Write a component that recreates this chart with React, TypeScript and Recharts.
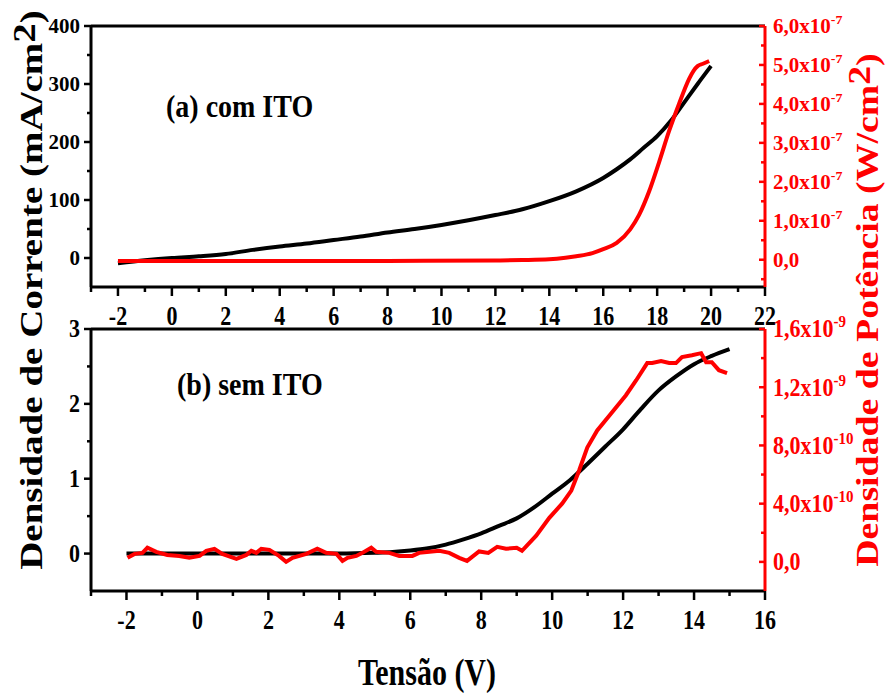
import React from "react";
import { ComposedChart, Line, XAxis, YAxis, ReferenceLine } from "recharts";

const FONT = '"Liberation Serif", "Times New Roman", Times, serif';

// ---------- Panel (a) com ITO ----------
const voltageA_J = [-2, -1, 0, 1, 2, 3, 4, 5, 6, 7, 8, 9, 10, 11, 12, 13, 14, 15, 16, 16.5, 17, 17.5, 18, 18.5, 19, 19.5, 20];
const currentA = [-9, -4, 0, 3, 7, 14, 20, 25, 31, 37, 44, 50, 57, 65, 74, 84, 98, 115, 138, 153, 170, 190, 210, 236, 268, 300, 331];
// power density in units of 1e-7 W/cm2
const voltageA_P = [-2, 0, 4, 8, 12, 13, 14, 14.6, 15, 15.6, 16, 16.5, 17, 17.33, 17.7, 18.07, 18.44, 18.81, 19.19, 19.35, 19.5, 19.7, 19.93];
const powerA = [-0.03, -0.03, -0.03, -0.03, -0.02, -0.01, 0.01, 0.05, 0.09, 0.17, 0.27, 0.43, 0.78, 1.15, 1.75, 2.5, 3.3, 4.0, 4.65, 4.85, 4.97, 5.03, 5.1];

// ---------- Panel (b) sem ITO ----------
const voltageB_J = [-2, -1, 0, 1, 2, 3, 4, 5, 5.5, 6, 6.5, 7, 7.5, 8, 8.5, 9, 9.5, 10, 10.5, 11, 11.5, 12, 12.5, 13, 13.5, 14, 14.5, 15];
const currentB = [0, 0, 0, 0, 0, 0, 0, 0.01, 0.02, 0.04, 0.07, 0.12, 0.19, 0.27, 0.37, 0.47, 0.62, 0.8, 0.98, 1.2, 1.43, 1.66, 1.93, 2.18, 2.37, 2.53, 2.64, 2.73];
// power density in units of 1e-10 W/cm2
const voltageB_P = [-1.97, -1.77, -1.55, -1.41, -1.16, -0.85, -0.51, -0.23, 0.06, 0.25, 0.48, 0.7, 1.1, 1.38, 1.52, 1.66, 1.8, 2.03, 2.3, 2.5, 2.68, 3.07, 3.38, 3.63, 3.92, 4.09, 4.23, 4.48, 4.65, 4.9, 5.04, 5.41, 5.69, 6.06, 6.25, 6.54, 6.82, 7.1, 7.38, 7.6, 7.94, 8.2, 8.45, 8.7, 9.0, 9.15, 9.55, 9.92, 10.28, 10.54, 10.76, 10.99, 11.27, 11.69, 12.08, 12.37, 12.68, 12.82, 13.07, 13.3, 13.49, 13.66, 13.94, 14.2, 14.34, 14.5, 14.7, 14.93];
const powerB = [0.28, 0.55, 0.62, 0.97, 0.69, 0.48, 0.41, 0.28, 0.41, 0.76, 0.9, 0.55, 0.21, 0.48, 0.76, 0.62, 0.9, 0.83, 0.41, 0.0, 0.28, 0.55, 0.9, 0.62, 0.55, 0.07, 0.28, 0.41, 0.62, 0.97, 0.69, 0.62, 0.41, 0.41, 0.62, 0.69, 0.76, 0.62, 0.28, 0.07, 0.72, 0.62, 1.03, 0.9, 0.97, 0.76, 1.8, 3.03, 4.0, 4.9, 6.28, 7.86, 9.03, 10.28, 11.45, 12.48, 13.66, 13.66, 13.8, 13.66, 13.66, 14.07, 14.2, 14.34, 13.72, 13.72, 13.17, 12.97];

// ---------- ticks ----------
const xTicksA = [-3, -2, -1, 0, 1, 2, 3, 4, 5, 6, 7, 8, 9, 10, 11, 12, 13, 14, 15, 16, 17, 18, 19, 20, 21, 22];
const xTicksB = [-3, -2, -1, 0, 1, 2, 3, 4, 5, 6, 7, 8, 9, 10, 11, 12, 13, 14, 15, 16];
const leftTicksA = [0, 50, 100, 150, 200, 250, 300, 350, 400];
const leftMajorA = [0, 100, 200, 300, 400];
const rightTicksA = [-0.5, 0, 0.5, 1, 1.5, 2, 2.5, 3, 3.5, 4, 4.5, 5, 5.5, 6];
const rightMajorA = [0, 1, 2, 3, 4, 5, 6];
const rightLabelsA: Record<number, [string, string]> = {
  0: ["0,0", ""], 1: ["1,0x10", "-7"], 2: ["2,0x10", "-7"], 3: ["3,0x10", "-7"],
  4: ["4,0x10", "-7"], 5: ["5,0x10", "-7"], 6: ["6,0x10", "-7"],
};
const leftTicksB = [0, 0.5, 1, 1.5, 2, 2.5, 3];
const leftMajorB = [0, 1, 2, 3];
const rightTicksB = [0, 2, 4, 6, 8, 10, 12, 14, 16];
const rightMajorB = [0, 4, 8, 12, 16];
const rightLabelsB: Record<number, [string, string]> = {
  0: ["0,0", ""], 4: ["4,0x10", "-10"], 8: ["8,0x10", "-10"], 12: ["1,2x10", "-9"], 16: ["1,6x10", "-9"],
};

const toPts = (xs: number[], ys: number[]) => xs.map((v, i) => ({ v, y: ys[i] }));

const makeXTick = () => (props: any) => {
  const { x, y, payload } = props;
  const v = payload.value;
  const major = Math.abs(v % 2) < 1e-9;
  return (
    <g>
      <line x1={x} x2={x} y1={y} y2={y + (major ? 9 : 5)} stroke="#000" strokeWidth={2.5} />
      {major && (
        <text
          transform={`translate(${x},${y + 38}) scale(1,1.2)`}
          textAnchor="middle"
          fontFamily={FONT}
          fontWeight="bold"
          fontSize={22}
          fill="#000"
        >
          {String(v)}
        </text>
      )}
    </g>
  );
};

const makeLeftTick = (majors: number[], fs: number, sy: number) => (props: any) => {
  const { x, y, payload } = props;
  const v = payload.value;
  const major = majors.includes(v);
  return (
    <g>
      <line x1={x - (major ? 7 : 4)} x2={x} y1={y} y2={y} stroke="#000" strokeWidth={2.5} />
      {major && (
        <text
          transform={`translate(${x - 11},${y + 0.34 * fs * sy}) scale(1,${sy})`}
          textAnchor="end"
          fontFamily={FONT}
          fontWeight="bold"
          fontSize={fs}
          fill="#000"
        >
          {String(v)}
        </text>
      )}
    </g>
  );
};

const makeRightTick = (majors: number[], labels: Record<number, [string, string]>, fs: number, sy: number, efs: number) => (props: any) => {
  const { x, y, payload } = props;
  const v = payload.value;
  const major = majors.includes(v);
  const lab = labels[v];
  return (
    <g>
      <line x1={x - (major ? 6 : 4)} x2={x} y1={y} y2={y} stroke="#ff0000" strokeWidth={2.5} />
      {major && lab && (
        <text
          transform={`translate(${x + 8},${y + 0.34 * fs * sy}) scale(1,${sy})`}
          textAnchor="start"
          fontFamily={FONT}
          fontWeight="bold"
          fontSize={fs}
          fill="#ff0000"
        >
          {lab[0]}
          {lab[1] && (
            <tspan dy={-9} fontSize={efs}>
              {lab[1]}
            </tspan>
          )}
        </text>
      )}
    </g>
  );
};

const PanelA = () => (
  <ComposedChart width={888} height={340} margin={{ top: 26, right: 0, bottom: 13, left: 0 }}>
    <XAxis
      dataKey="v"
      type="number"
      domain={[-3, 22]}
      ticks={xTicksA}
      interval={0}
      allowDataOverflow
      height={40}
      tickSize={0}
      tickMargin={0}
      tickLine={false}
      axisLine={{ stroke: "#000", strokeWidth: 3 }}
      tick={makeXTick()}
    />
    <YAxis
      yAxisId="left"
      type="number"
      domain={[-50, 400]}
      ticks={leftTicksA}
      interval={0}
      allowDataOverflow
      width={91}
      tickSize={0}
      tickMargin={0}
      tickLine={false}
      axisLine={{ stroke: "#000", strokeWidth: 3 }}
      tick={makeLeftTick(leftMajorA, 21, 0.95)}
    />
    <YAxis
      yAxisId="right"
      orientation="right"
      type="number"
      domain={[-0.7, 6]}
      ticks={rightTicksA}
      interval={0}
      allowDataOverflow
      width={123}
      tickSize={0}
      tickMargin={0}
      tickLine={false}
      axisLine={{ stroke: "#ff0000", strokeWidth: 3 }}
      tick={makeRightTick(rightMajorA, rightLabelsA, 21, 0.95, 14)}
    />
    <ReferenceLine yAxisId="left" y={400} stroke="#000" strokeWidth={3} />
    <Line
      yAxisId="left"
      data={toPts(voltageA_J, currentA)}
      dataKey="y"
      type="monotone"
      stroke="#000"
      strokeWidth={4}
      dot={false}
      isAnimationActive={false}
    />
    <Line
      yAxisId="right"
      data={toPts(voltageA_P, powerA)}
      dataKey="y"
      type="monotone"
      stroke="#ff0000"
      strokeWidth={4}
      dot={false}
      isAnimationActive={false}
    />
  </ComposedChart>
);

const PanelB = () => (
  <ComposedChart width={888} height={393} margin={{ top: 29, right: 0, bottom: 62, left: 0 }}>
    <XAxis
      dataKey="v"
      type="number"
      domain={[-3, 16]}
      ticks={xTicksB}
      interval={0}
      allowDataOverflow
      height={40}
      tickSize={0}
      tickMargin={0}
      tickLine={false}
      axisLine={{ stroke: "#000", strokeWidth: 3 }}
      tick={makeXTick()}
    />
    <YAxis
      yAxisId="left"
      type="number"
      domain={[-0.5, 3]}
      ticks={leftTicksB}
      interval={0}
      allowDataOverflow
      width={91}
      tickSize={0}
      tickMargin={0}
      tickLine={false}
      axisLine={{ stroke: "#000", strokeWidth: 3 }}
      tick={makeLeftTick(leftMajorB, 22, 1.12)}
    />
    <YAxis
      yAxisId="right"
      orientation="right"
      type="number"
      domain={[-2, 16]}
      ticks={rightTicksB}
      interval={0}
      allowDataOverflow
      width={123}
      tickSize={0}
      tickMargin={0}
      tickLine={false}
      axisLine={{ stroke: "#ff0000", strokeWidth: 3 }}
      tick={makeRightTick(rightMajorB, rightLabelsB, 22, 1.12, 15)}
    />
    <ReferenceLine yAxisId="left" y={3} stroke="#000" strokeWidth={3} />
    <Line
      yAxisId="left"
      data={toPts(voltageB_J, currentB)}
      dataKey="y"
      type="monotone"
      stroke="#000"
      strokeWidth={4}
      dot={false}
      isAnimationActive={false}
    />
    <Line
      yAxisId="right"
      data={toPts(voltageB_P, powerB)}
      dataKey="y"
      type="linear"
      stroke="#ff0000"
      strokeWidth={4}
      dot={false}
      isAnimationActive={false}
    />
  </ComposedChart>
);

const Titles = () => (
  <svg width={888} height={693} style={{ position: "absolute", left: 0, top: 0, pointerEvents: "none" }}>
    <text transform="translate(166,117) scale(1,1.1)" fontFamily={FONT} fontWeight="bold" fontSize={28} fill="#000">
      (a) com ITO
    </text>
    <text transform="translate(177,395) scale(1,1.1)" fontFamily={FONT} fontWeight="bold" fontSize={28} fill="#000">
      (b) sem ITO
    </text>
    <text
      transform="translate(42,290) scale(1,1.22) rotate(-90)"
      textAnchor="middle"
      fontFamily={FONT}
      fontWeight="bold"
      fontSize={32}
      fill="#000"
    >
      Densidade de Corrente (mA/cm<tspan dy={-7}>2</tspan>
      <tspan dy={7}>)</tspan>
    </text>
    <text
      transform="translate(878,310) scale(1,1.22) rotate(-90)"
      textAnchor="middle"
      fontFamily={FONT}
      fontWeight="bold"
      fontSize={31}
      fill="#ff0000"
    >
      Densidade de Potência (W/cm<tspan dy={-8}>2</tspan>
      <tspan dy={8}>)</tspan>
    </text>
    <text
      transform="translate(427,685) scale(1,1.25)"
      textAnchor="middle"
      fontFamily={FONT}
      fontWeight="bold"
      fontSize={30}
      fill="#000"
    >
      Tensão (V)
    </text>
  </svg>
);

export default function App() {
  return (
    <div style={{ position: "absolute", left: 0, top: 0, width: 888, height: 693, background: "#fff", overflow: "hidden" }}>
      <div style={{ position: "absolute", left: 0, top: 0 }}>
        <PanelA />
      </div>
      <div style={{ position: "absolute", left: 0, top: 300 }}>
        <PanelB />
      </div>
      <Titles />
    </div>
  );
}
